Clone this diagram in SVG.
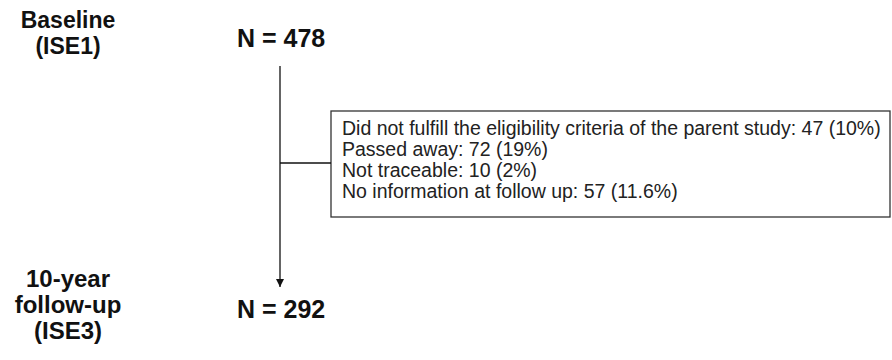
<svg xmlns="http://www.w3.org/2000/svg" width="892" height="360" viewBox="0 0 892 360">
<style>
.lbl{font-family:"Liberation Sans",Arial,sans-serif;font-weight:bold;font-size:23px;fill:#111;text-anchor:middle}
.lbl2{font-family:"Liberation Sans",Arial,sans-serif;font-weight:bold;font-size:24px;fill:#111;text-anchor:middle}
.n{font-family:"Liberation Sans",Arial,sans-serif;font-weight:bold;font-size:25px;fill:#111}
.box{font-family:"Liberation Sans",Arial,sans-serif;font-size:19.5px;fill:#222}
.ln{stroke:#111;stroke-width:1.3;fill:none}
</style>
<defs>
<marker id="ah" viewBox="0 0 10 10" refX="10" refY="5" markerWidth="9" markerHeight="8" markerUnits="userSpaceOnUse" orient="auto">
<path d="M0,0 L10,5 L0,10 z" fill="#111"/>
</marker>
</defs>
<rect width="892" height="360" fill="#fff"/>
<g id="stage-baseline">
<text class="lbl" x="68" y="28">Baseline</text>
<text class="lbl" x="68" y="54">(ISE1)</text>
</g>
<g id="stage-followup">
<text class="lbl2" x="68" y="287">10-year</text>
<text class="lbl2" x="68" y="313">follow-up</text>
<text class="lbl2" x="68" y="339">(ISE3)</text>
</g>
<g id="n-baseline"><text class="n" x="237" y="47">N = 478</text></g>
<g id="n-followup"><text class="n" x="237" y="318">N = 292</text></g>
<g id="exclusions">
<rect x="331" y="111" width="559" height="106" fill="#fff" stroke="#333" stroke-width="1.3"/>
<text class="box" x="342" y="135">Did not fulfill the eligibility criteria of the parent study: 47 (10%)</text>
<text class="box" x="342" y="156">Passed away: 72 (19%)</text>
<text class="box" x="342" y="177">Not traceable: 10 (2%)</text>
<text class="box" x="342" y="198">No information at follow up: 57 (11.6%)</text>
</g>
<g id="connectors">
<line class="ln" x1="280" y1="66" x2="280" y2="287" marker-end="url(#ah)"/>
<line class="ln" x1="280" y1="163" x2="331" y2="163"/>
</g>
</svg>
